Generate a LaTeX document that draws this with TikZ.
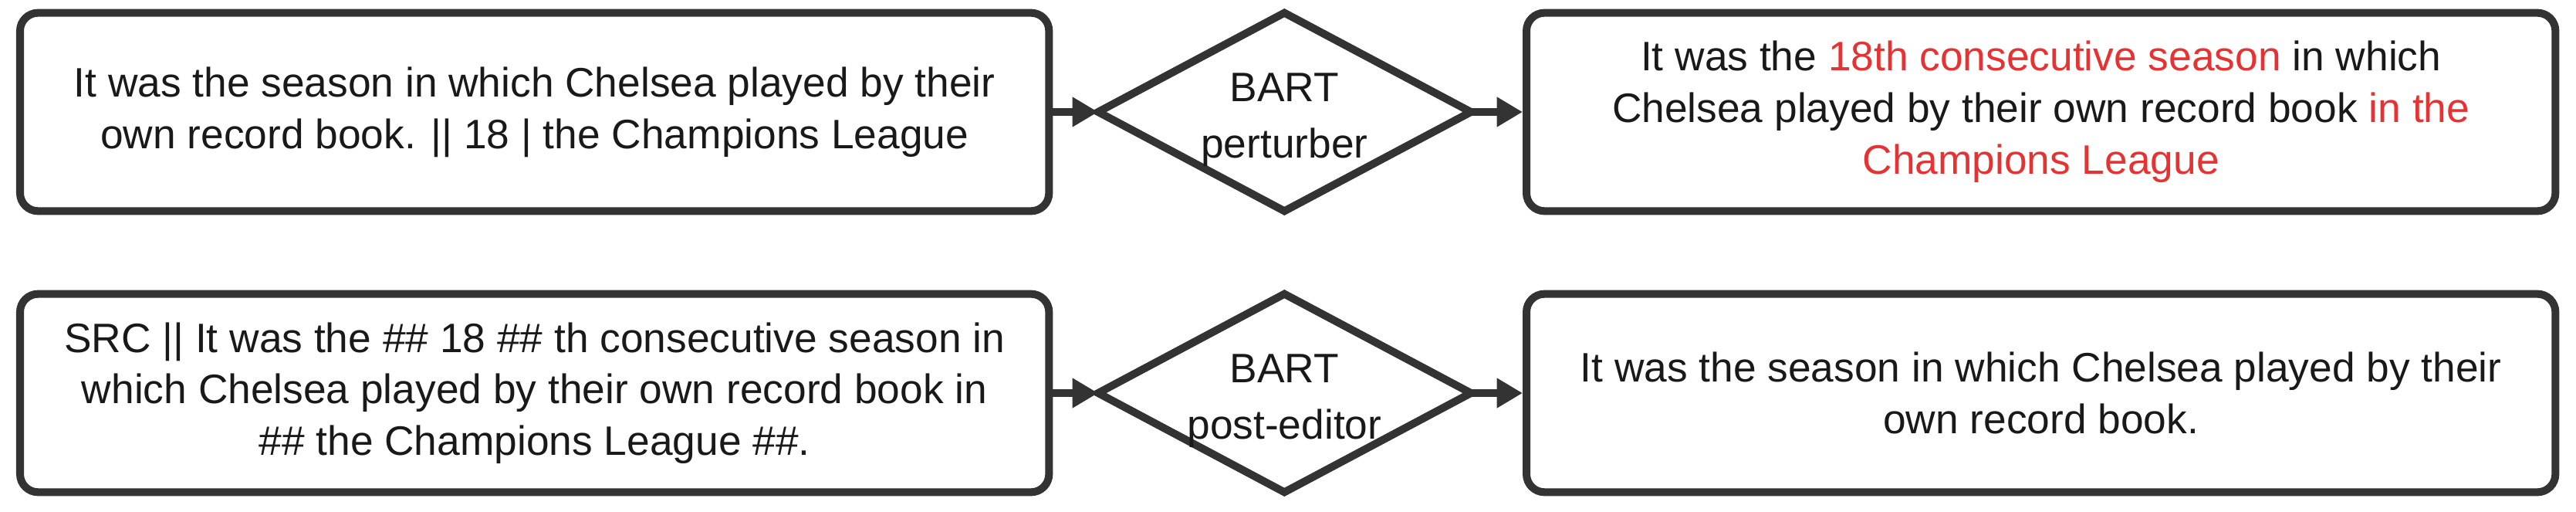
\documentclass[tikz,border=0pt]{standalone}
\usepackage{fontspec}
\setmainfont{Liberation Sans}
\usetikzlibrary{arrows.meta}
\definecolor{ln}{RGB}{51,51,51}
\definecolor{rd}{RGB}{230,50,50}
\begin{document}
\begin{tikzpicture}
\useasboundingbox (0,0) rectangle (100.14,19.86);
\tikzset{
 box/.style={draw=ln,line width=0.3cm,rounded corners=0.7cm,minimum height=7.7cm,align=center,font=\fontsize{45.5}{57}\selectfont,text=black!90},
 dtext/.style={align=center,font=\fontsize{45.5}{62}\selectfont,text=black!90},
 dline/.style={draw=ln,line width=0.3cm,line join=miter},
 arr/.style={draw=ln,line width=0.3cm,-{Triangle[length=1.0cm,width=1.1cm]}}
}
\node[box,minimum width=40cm] (a1) at (20.78,15.51) {It was the season in which Chelsea played by their\\own record book. || 18 | the Champions League};
\node[box,minimum width=40cm] (b1) at (79.34,15.51) {It was the \textcolor{rd}{18th consecutive season} in which\\Chelsea played by their own record book \textcolor{rd}{in the}\\\textcolor{rd}{Champions League}};
\node[box,minimum width=40cm] (a2) at (20.78,4.59) {SRC || It was the \#\# 18 \#\# th consecutive season in\\which Chelsea played by their own record book in\\\#\# the Champions League \#\#.};
\node[box,minimum width=40cm] (b2) at (79.34,4.59) {It was the season in which Chelsea played by their\\own record book.};
\foreach \n/\y/\t in {1/15.51/perturber,2/4.59/post-editor}{
  \coordinate (dl\n) at (42.69,\y);
  \coordinate (dr\n) at (57.18,\y);
  \draw[dline] (dl\n) -- (49.93,\y+3.85) -- (dr\n) -- (49.93,\y-3.85) -- cycle;
  \node[dtext] (dt\n) at (49.93,\y-0.3) {BART\\\t};
}
\draw[arr] (a1) -- (dl1);
\draw[arr] (dr1) -- (b1);
\draw[arr] (a2) -- (dl2);
\draw[arr] (dr2) -- (b2);
\end{tikzpicture}
\end{document}
